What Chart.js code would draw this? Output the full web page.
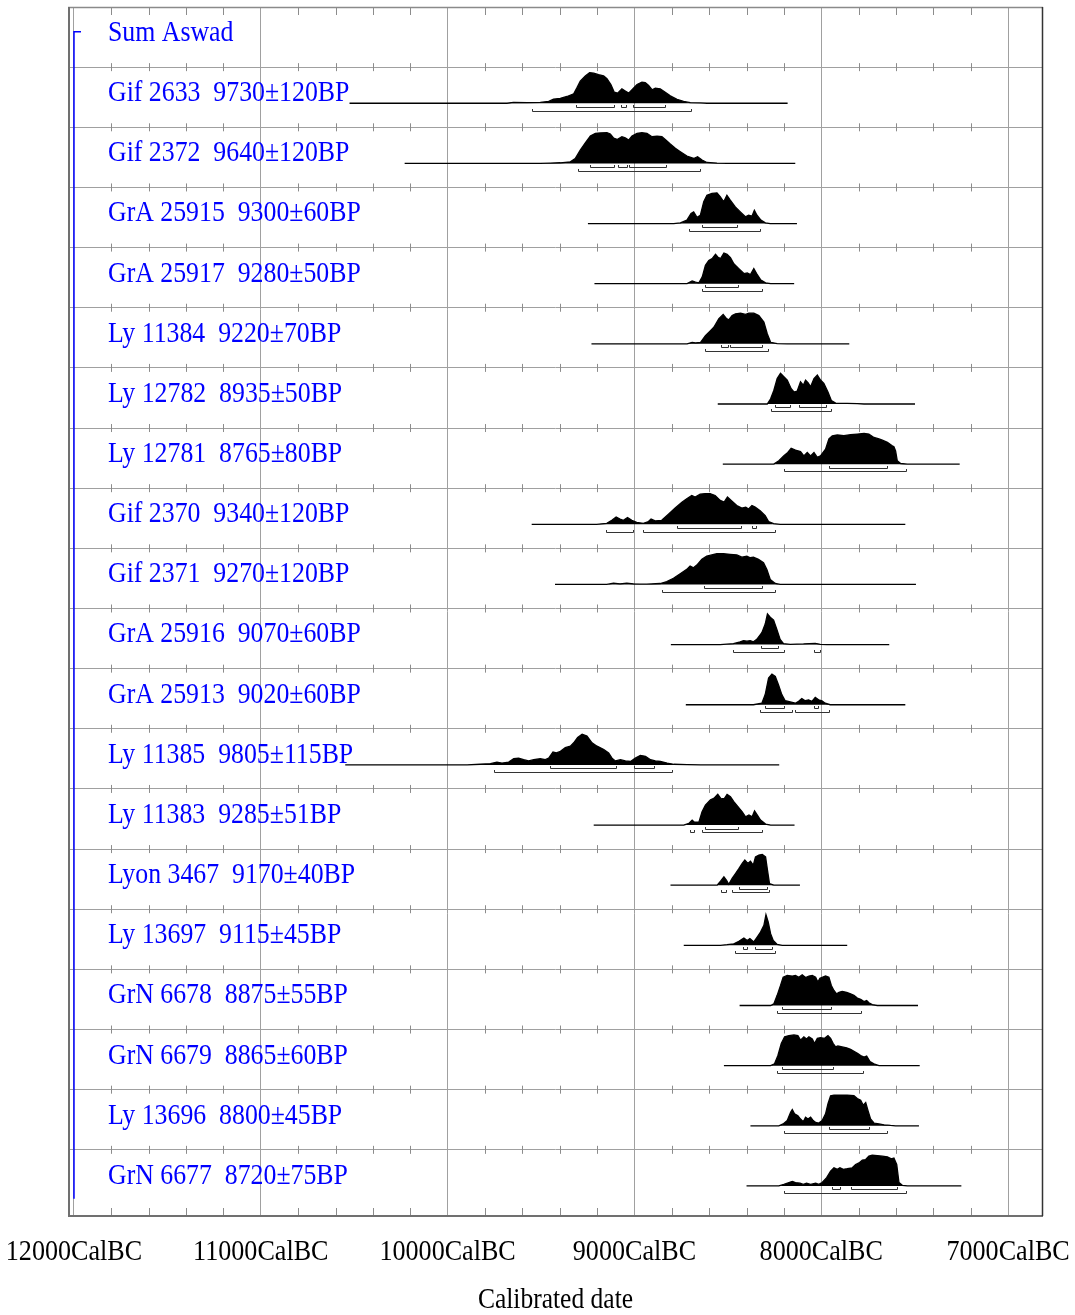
<!DOCTYPE html>
<html><head><meta charset="utf-8">
<script src="https://cdn.jsdelivr.net/npm/chart.js@4.4.0/dist/chart.umd.min.js"></script>
<style>html,body{margin:0;padding:0;background:#fff;} canvas{display:block;}</style>
</head><body>
<canvas id="c" width="1075" height="1315"></canvas>
<script>
const rowLabels = ["Sum Aswad", "Gif 2633  9730\u00b1120BP", "Gif 2372  9640\u00b1120BP", "GrA 25915  9300\u00b160BP", "GrA 25917  9280\u00b150BP", "Ly 11384  9220\u00b170BP", "Ly 12782  8935\u00b150BP", "Ly 12781  8765\u00b180BP", "Gif 2370  9340\u00b1120BP", "Gif 2371  9270\u00b1120BP", "GrA 25916  9070\u00b160BP", "GrA 25913  9020\u00b160BP", "Ly 11385  9805\u00b1115BP", "Ly 11383  9285\u00b151BP", "Lyon 3467  9170\u00b140BP", "Ly 13697  9115\u00b145BP", "GrN 6678  8875\u00b155BP", "GrN 6679  8865\u00b160BP", "Ly 13696  8800\u00b145BP", "GrN 6677  8720\u00b175BP"];

// extent of each calibrated curve (cal BC start, end)
const extents = [[10525,8180],[10230,8139],[9249,8130],[9214,8145],[9230,7850],[8554,7498],[8527,7259],[9550,7550],[9425,7493],[8805,7636],[8725,7550],[10548,8225],[9218,8143],[8807,8114],[8736,7861],[8437,7482],[8521,7473],[8379,7477],[8400,7250]];

// probability profiles: [cal BC, relative density %]
const dGif2633 = [[9682,0],[9647,3],[9575,2],[9504,3],[9459,6],[9433,13],[9397,16],[9361,22],[9325,31],[9308,50],[9290,72],[9263,89],[9240,100],[9218,98],[9192,93],[9165,89],[9147,80],[9126,61],[9108,36],[9090,33],[9067,47],[9049,40],[9031,33],[9013,44],[8986,61],[8960,69],[8942,67],[8924,58],[8906,44],[8888,49],[8862,47],[8835,36],[8808,24],[8772,13],[8737,6],[8701,2],[8647,1],[8612,0]];
const dGif2372 = [[9504,0],[9450,1],[9397,2],[9343,5],[9317,16],[9290,43],[9263,67],[9236,89],[9209,98],[9183,99],[9147,100],[9129,96],[9111,82],[9093,78],[9067,87],[9049,83],[9031,76],[9013,89],[8986,98],[8960,100],[8933,98],[8906,87],[8879,89],[8853,87],[8835,78],[8808,63],[8781,49],[8754,38],[8719,24],[8683,16],[8662,22],[8638,11],[8612,3],[8558,1],[8505,0]];
const dGrA25915 = [[8790,0],[8754,2],[8719,11],[8697,33],[8683,38],[8665,20],[8647,27],[8629,71],[8612,92],[8585,98],[8558,100],[8540,87],[8522,71],[8505,92],[8487,76],[8460,54],[8433,38],[8406,22],[8389,27],[8371,24],[8358,43],[8344,27],[8323,11],[8299,2],[8273,0]];
const dGrA25917 = [[8718,0],[8691,9],[8673,5],[8655,3],[8637,22],[8620,60],[8602,76],[8584,82],[8566,96],[8554,87],[8539,82],[8521,100],[8504,96],[8486,85],[8468,65],[8441,49],[8414,33],[8396,35],[8379,30],[8361,49],[8346,33],[8325,13],[8298,3],[8271,0]];
const dLy11384 = [[8718,0],[8691,5],[8673,3],[8646,5],[8620,27],[8593,43],[8575,54],[8548,82],[8525,96],[8507,82],[8495,78],[8477,92],[8459,98],[8432,100],[8405,96],[8387,100],[8361,100],[8334,92],[8307,71],[8289,33],[8271,5],[8236,1],[8182,0]];
const dLy12782 = [[8289,0],[8271,17],[8254,44],[8236,83],[8218,100],[8200,89],[8182,78],[8161,50],[8146,39],[8129,42],[8111,72],[8096,61],[8084,78],[8070,69],[8057,56],[8039,83],[8021,94],[8004,78],[7986,67],[7964,39],[7946,11],[7923,3],[7861,2],[7807,1],[7771,0]];
const dLy12781 = [[8254,0],[8227,11],[8200,27],[8179,38],[8161,52],[8138,46],[8111,41],[8093,27],[8075,38],[8057,27],[8039,38],[8021,22],[8004,27],[7977,49],[7959,82],[7941,92],[7914,95],[7879,93],[7843,96],[7807,98],[7771,100],[7745,98],[7718,87],[7691,82],[7673,78],[7646,71],[7620,60],[7611,57],[7602,43],[7593,11],[7575,2],[7539,0]];
const dGif2370 = [[9202,0],[9148,3],[9121,13],[9098,24],[9077,17],[9059,13],[9037,22],[9014,13],[8988,6],[8952,3],[8925,9],[8911,17],[8889,11],[8854,13],[8818,33],[8782,53],[8746,72],[8720,83],[8693,94],[8675,89],[8648,98],[8621,100],[8595,100],[8568,94],[8541,78],[8520,72],[8502,89],[8479,76],[8452,61],[8425,53],[8404,56],[8389,50],[8371,61],[8354,56],[8327,44],[8300,28],[8282,9],[8255,2],[8220,0]];
const dGif2371 = [[9148,0],[9112,4],[9077,2],[9041,4],[9005,2],[8934,1],[8862,3],[8827,9],[8791,20],[8755,35],[8720,49],[8702,60],[8684,54],[8666,63],[8639,82],[8613,92],[8586,96],[8559,100],[8523,100],[8488,98],[8452,96],[8425,89],[8398,92],[8380,87],[8363,89],[8336,82],[8309,71],[8291,49],[8273,16],[8246,3],[8220,0]];
const dGrA25916 = [[8541,0],[8470,3],[8434,9],[8416,13],[8398,11],[8380,13],[8363,9],[8345,17],[8318,39],[8300,67],[8288,100],[8273,89],[8255,80],[8238,50],[8220,17],[8202,3],[8166,1],[8095,2],[8032,4],[8005,1],[7970,0]];
const dGrA25913 = [[8363,0],[8318,5],[8300,33],[8282,87],[8264,100],[8246,92],[8229,65],[8211,33],[8193,13],[8166,9],[8139,5],[8121,11],[8104,20],[8086,13],[8068,16],[8050,11],[8032,24],[8014,16],[7996,13],[7979,5],[7952,0]];
const dLy11385 = [[9896,0],[9825,2],[9771,4],[9736,9],[9709,6],[9673,9],[9646,20],[9620,22],[9593,17],[9566,13],[9539,17],[9504,20],[9477,17],[9459,22],[9436,42],[9418,39],[9396,44],[9370,56],[9343,61],[9325,72],[9304,89],[9280,100],[9254,94],[9227,72],[9200,61],[9164,50],[9138,39],[9120,22],[9102,13],[9075,17],[9048,13],[9021,11],[8995,22],[8968,31],[8941,28],[8914,17],[8888,13],[8861,11],[8825,6],[8789,2],[8718,1],[8646,0]];
const dLy11383 = [[8736,0],[8709,5],[8691,16],[8679,9],[8655,9],[8638,43],[8620,65],[8593,82],[8575,87],[8554,100],[8536,85],[8518,87],[8504,100],[8486,92],[8468,76],[8446,60],[8423,43],[8405,27],[8387,33],[8370,27],[8357,46],[8343,33],[8325,16],[8298,3],[8271,0]];
const dLyon3467 = [[8557,0],[8539,13],[8521,27],[8507,16],[8495,3],[8477,22],[8459,38],[8441,54],[8423,71],[8409,82],[8393,71],[8379,78],[8364,65],[8352,92],[8334,98],[8316,100],[8298,92],[8289,54],[8277,5],[8254,0]];
const dLy13697 = [[8539,0],[8504,2],[8468,5],[8441,13],[8414,24],[8396,16],[8382,22],[8361,11],[8343,27],[8325,43],[8307,65],[8296,100],[8284,76],[8271,38],[8257,16],[8236,3],[8209,0]];
const dGrN6678 = [[8271,0],[8254,5],[8236,33],[8218,65],[8204,92],[8182,98],[8155,96],[8138,98],[8120,92],[8102,100],[8084,91],[8066,96],[8048,98],[8030,92],[8018,76],[8007,89],[7995,92],[7977,96],[7959,92],[7946,65],[7932,49],[7918,38],[7905,43],[7888,46],[7864,43],[7843,38],[7825,33],[7807,24],[7789,20],[7771,13],[7757,16],[7745,9],[7727,3],[7700,0]];
const dGrN6679 = [[8271,0],[8250,6],[8232,33],[8214,72],[8196,94],[8173,98],[8146,100],[8125,98],[8111,83],[8093,94],[8079,87],[8066,94],[8048,87],[8036,72],[8021,89],[8004,91],[7982,89],[7964,98],[7950,89],[7936,72],[7923,61],[7911,64],[7888,61],[7864,58],[7843,53],[7825,47],[7804,39],[7789,33],[7771,28],[7757,31],[7739,13],[7718,6],[7691,0]];
const dLy13696 = [[8227,0],[8204,6],[8182,17],[8164,44],[8155,53],[8143,39],[8125,33],[8111,22],[8096,13],[8084,28],[8071,22],[8057,28],[8043,17],[8030,11],[8013,9],[7995,17],[7977,39],[7964,72],[7950,98],[7932,100],[7896,100],[7861,100],[7825,98],[7807,89],[7789,83],[7775,67],[7762,76],[7750,50],[7736,22],[7718,9],[7691,6],[7664,3],[7629,1],[7602,0]];
const dGrN6677 = [[8227,0],[8200,5],[8173,11],[8155,15],[8138,11],[8114,9],[8096,5],[8079,9],[8057,5],[8030,9],[8013,5],[7995,11],[7971,27],[7950,48],[7932,59],[7914,54],[7900,59],[7882,54],[7861,56],[7834,59],[7816,70],[7798,75],[7780,84],[7762,86],[7745,97],[7727,100],[7700,99],[7673,97],[7646,95],[7625,88],[7611,91],[7596,70],[7584,11],[7566,2],[7539,0]];

const densities = [dGif2633, dGif2372, dGrA25915, dGrA25917, dLy11384, dLy12782, dLy12781, dGif2370, dGif2371, dGrA25916, dGrA25913, dLy11385, dLy11383, dLyon3467, dLy13697, dGrN6678, dGrN6679, dLy13696, dGrN6677];

// 68.2% and 95.4% ranges (cal BC from, to)
const oneSigma = [[[9311,9108],[9070,9047],[9010,8838]],[[9240,9111],[9090,9040],[9031,8829]],[[8638,8451]],[[8620,8446]],[[8539,8498],[8491,8316]],[[8248,8168],[8120,7975]],[[7959,7646]],[[8773,8430],[8371,8350]],[[8630,8318]],[[8323,8229]],[[8300,8198],[8041,8018]],[[9450,9098],[9000,8896]],[[8620,8446]],[[8441,8289]],[[8418,8396],[8352,8266]],[[8209,7946]],[[8209,7936]],[[7959,7745]],[[7941,7900],[7843,7596]]];
const twoSigma = [[[9550,8699]],[[9300,8649]],[[8710,8330]],[[8637,8316]],[[8620,8286]],[[8268,7946]],[[8200,7546]],[[9152,9005],[8952,8246]],[[8850,8246]],[[8473,8198],[8041,8009]],[[8330,8159],[8141,7961]],[[9750,8798]],[[8700,8679],[8638,8316]],[[8539,8509],[8480,8280]],[[8459,8248]],[[8239,7786]],[[8239,7775]],[[8200,7646]],[[8200,7548]]];

const xTickYears = [12000, 11000, 10000, 9000, 8000, 7000];
const axisTitle = "Calibrated date";

const ROWS = 20;
const BASE_OFF = 0.6;   // baseline below row top (row units)
const PEAK = 0.51;      // max curve height (row units)

const datasets = densities.map((d, k) => {
  const i = k + 1;
  const base = ROWS - i - BASE_OFF;
  const pts = [{x: -extents[k][0], y: base}];
  d.forEach(([yr, p]) => pts.push({x: -yr, y: base + PEAK * p / 100}));
  pts.push({x: -extents[k][1], y: base});
  return {data: pts, fill: {value: base}, backgroundColor: '#000', borderColor: '#000',
          borderWidth: 1.3, pointRadius: 0, tension: 0};
});

const oxcalPlugin = {
  id: 'oxcal',
  afterDatasetsDraw(chart) {
    const ctx = chart.ctx, xs = chart.scales.x, ys = chart.scales.y, a = chart.chartArea;
    ctx.save();
    // small ticks on row lines
    ctx.strokeStyle = '#8c8c8c'; ctx.lineWidth = 1;
    for (let v = -11800; v <= -7000; v += 200) {
      if (v % 1000 === 0) continue;
      const px = Math.round(xs.getPixelForValue(v)) + 0.5;
      ctx.beginPath();
      for (let r = 1; r < ROWS; r++) {
        const py = ys.getPixelForValue(r);
        ctx.moveTo(px, py - 4); ctx.lineTo(px, py + 4);
      }
      ctx.moveTo(px, a.top); ctx.lineTo(px, a.top + 8);
      ctx.moveTo(px, a.bottom); ctx.lineTo(px, a.bottom - 8);
      ctx.stroke();
    }
    // range brackets
    ctx.strokeStyle = '#333'; ctx.lineWidth = 1;
    const drawBr = (list, py) => {
      list.forEach(([s, e]) => {
        const x1 = Math.round(xs.getPixelForValue(-s)) + 0.5, x2 = Math.round(xs.getPixelForValue(-e)) + 0.5;
        ctx.beginPath();
        ctx.moveTo(x1, py - 2.5); ctx.lineTo(x1, py); ctx.lineTo(x2, py); ctx.lineTo(x2, py - 2.5);
        ctx.stroke();
      });
    };
    for (let k = 0; k < densities.length; k++) {
      const bpx = ys.getPixelForValue(ROWS - (k + 1) - BASE_OFF);
      drawBr(oneSigma[k], Math.round(bpx + 3.5) + 0.5);
      drawBr(twoSigma[k], Math.round(bpx + 7.3) + 0.5);
    }
    // blue Sum bracket
    const bx = xs.getPixelForValue(-12000);
    ctx.strokeStyle = '#0000ff'; ctx.lineWidth = 1.5;
    ctx.beginPath();
    ctx.moveTo(bx + 7, ys.getPixelForValue(ROWS) + 24.7);
    ctx.lineTo(bx, ys.getPixelForValue(ROWS) + 24.7);
    ctx.lineTo(bx, ys.getPixelForValue(1) + 49);
    ctx.stroke();
    // row labels
    ctx.fillStyle = '#0000ff';
    ctx.font = '30px "Liberation Serif"';
    ctx.textBaseline = 'alphabetic'; ctx.textAlign = 'left';
    rowLabels.forEach((t, i) => {
      ctx.save();
      ctx.translate(a.left + 40, ys.getPixelForValue(ROWS - i) + 34);
      ctx.scale(0.86, 1);
      ctx.fillText(t, 0, 0);
      ctx.restore();
    });
    // frame
    ctx.lineWidth = 1.5; ctx.strokeStyle = '#8a8a8a';
    ctx.beginPath(); ctx.moveTo(a.left, a.top + 0.5); ctx.lineTo(a.right, a.top + 0.5); ctx.stroke();
    ctx.lineWidth = 2; ctx.strokeStyle = '#707070';
    ctx.beginPath(); ctx.moveTo(a.left + 1, a.top); ctx.lineTo(a.left + 1, a.bottom); ctx.lineTo(a.right, a.bottom); ctx.stroke();
    ctx.lineWidth = 1.5; ctx.strokeStyle = '#333';
    ctx.beginPath(); ctx.moveTo(a.right - 0.5, a.top); ctx.lineTo(a.right - 0.5, a.bottom); ctx.stroke();
    // x tick labels
    ctx.fillStyle = '#000'; ctx.font = '29px "Liberation Serif"'; ctx.textAlign = 'center';
    xTickYears.forEach(y => {
      ctx.save();
      ctx.translate(xs.getPixelForValue(-y), a.bottom + 44);
      ctx.scale(0.9, 1);
      ctx.fillText(y + 'CalBC', 0, 0);
      ctx.restore();
    });
    ctx.save();
    ctx.translate((a.left + a.right) / 2, a.bottom + 92);
    ctx.scale(0.88, 1);
    ctx.fillText(axisTitle, 0, 0);
    ctx.restore();
    ctx.restore();
  }
};

new Chart(document.getElementById('c'), {
  type: 'line',
  data: {datasets},
  plugins: [oxcalPlugin],
  options: {
    responsive: false, animation: false, devicePixelRatio: 1,
    layout: {padding: {left: 68, right: 32, top: 7, bottom: 99}},
    plugins: {legend: {display: false}, tooltip: {enabled: false}},
    scales: {
      x: {type: 'linear', min: -12032, max: -6813,
          afterBuildTicks: s => { s.ticks = []; for (let v = -12000; v <= -7000; v += 200) s.ticks.push({value: v}); },
          ticks: {display: false},
          grid: {drawTicks: false, lineWidth: 1,
                 color: c => (c.tick && c.tick.value % 1000 === 0) ? '#a0a0a0' : 'rgba(0,0,0,0)'},
          border: {display: false}},
      y: {type: 'linear', min: -0.1, max: 20,
          afterBuildTicks: s => { s.ticks = []; for (let v = 1; v < 20; v++) s.ticks.push({value: v}); },
          ticks: {display: false},
          grid: {drawTicks: false, color: '#a0a0a0', lineWidth: 1},
          border: {display: false}}
    }
  }
});
</script>
</body></html>
